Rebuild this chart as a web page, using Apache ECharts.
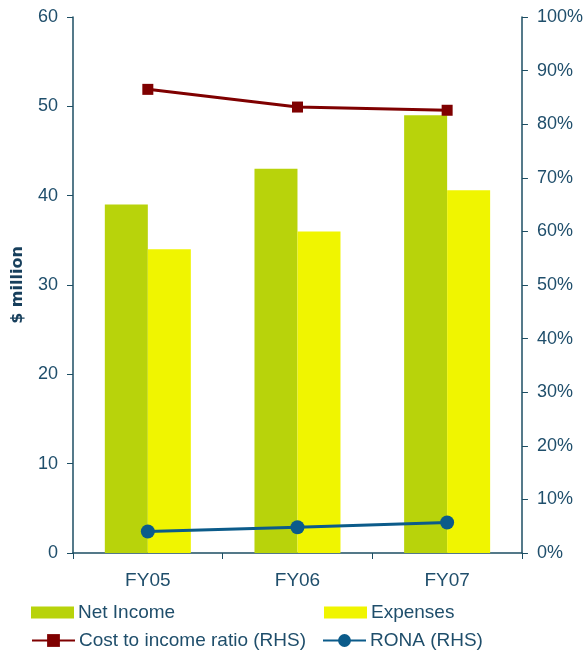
<!DOCTYPE html>
<html>
<head>
<meta charset="utf-8">
<script src="https://cdn.jsdelivr.net/npm/echarts@6/dist/echarts.min.js"></script>
<style>
  html, body { margin: 0; padding: 0; background: #fff; }
  #chart { width: 586px; height: 653px; }
</style>
</head>
<body>
<div id="chart"></div>
<script>
// Datos
const categories = ['FY05', 'FY06', 'FY07'];
const netIncome = [39, 43, 49];
const expenses = [34, 36, 40.6];
const costToIncome = [86.5, 83.2, 82.6];
const rona = [4.0, 4.8, 5.7];

const axisColor = '#1d4e63';
const textColor = '#1f4e6b';
const font = 'Liberation Sans, Arial, sans-serif';

const chart = echarts.init(document.getElementById('chart'));

const legendBase = (h) => ({
  itemWidth: 43,
  itemHeight: h,
  itemGap: 4,
  padding: 0,
  textStyle: { color: textColor, fontSize: 19, fontFamily: font, padding: [0, 0, 0, -1] }
});

chart.setOption({
  animation: false,
  textStyle: { fontFamily: font },
  grid: { left: 73, right: 63, top: 17, bottom: 100 },
  legend: [
    Object.assign({ data: [{ name: 'Net Income', icon: 'rect' }], left: 31, top: 603 }, legendBase(12)),
    Object.assign({ data: [{ name: 'Expenses', icon: 'rect' }], left: 324, top: 603 }, legendBase(12)),
    Object.assign({ data: ['Cost to income ratio (RHS)'], left: 31, top: 631 }, legendBase(16)),
    Object.assign({ data: ['RONA (RHS)'], left: 322, top: 631 }, legendBase(16))
  ],
  xAxis: {
    type: 'category',
    data: categories,
    axisLine: { lineStyle: { color: axisColor, width: 1.5 } },
    axisTick: { show: true, length: 6, lineStyle: { color: axisColor } },
    axisLabel: { color: textColor, fontSize: 19, margin: 18 }
  },
  yAxis: [
    {
      type: 'value',
      min: 0, max: 60, interval: 10,
      name: '$ million',
      nameLocation: 'middle',
      nameGap: 47,
      nameRotate: 90,
      nameTextStyle: { color: '#173f5c', fontSize: 16, fontWeight: 'bold', fontFamily: 'DejaVu Sans' },
      axisLine: { show: true, lineStyle: { color: axisColor, width: 1.5 } },
      axisTick: { show: true, length: 6, lineStyle: { color: axisColor } },
      axisLabel: { color: textColor, fontSize: 18, margin: 15 },
      splitLine: { show: false }
    },
    {
      type: 'value',
      min: 0, max: 100, interval: 10,
      position: 'right',
      axisLine: { show: true, lineStyle: { color: axisColor, width: 1.5 } },
      axisTick: { show: true, length: 6, lineStyle: { color: axisColor } },
      axisLabel: { color: textColor, fontSize: 18, margin: 15, formatter: '{value}%' },
      splitLine: { show: false }
    }
  ],
  series: [
    {
      name: 'Net Income',
      type: 'bar',
      data: netIncome,
      barWidth: 43,
      barGap: '0%',
      itemStyle: { color: '#b8d30b' }
    },
    {
      name: 'Expenses',
      type: 'bar',
      data: expenses,
      barWidth: 43,
      barGap: '0%',
      itemStyle: { color: '#f0f500' }
    },
    {
      name: 'Cost to income ratio (RHS)',
      type: 'line',
      yAxisIndex: 1,
      data: costToIncome,
      symbol: 'rect',
      symbolSize: 11,
      lineStyle: { color: '#7f0000', width: 3 },
      itemStyle: { color: '#7f0000' }
    },
    {
      name: 'RONA (RHS)',
      type: 'line',
      yAxisIndex: 1,
      data: rona,
      symbol: 'circle',
      symbolSize: 14,
      lineStyle: { color: '#0b5b8a', width: 3 },
      itemStyle: { color: '#0b5b8a' }
    }
  ]
});
</script>
</body>
</html>
